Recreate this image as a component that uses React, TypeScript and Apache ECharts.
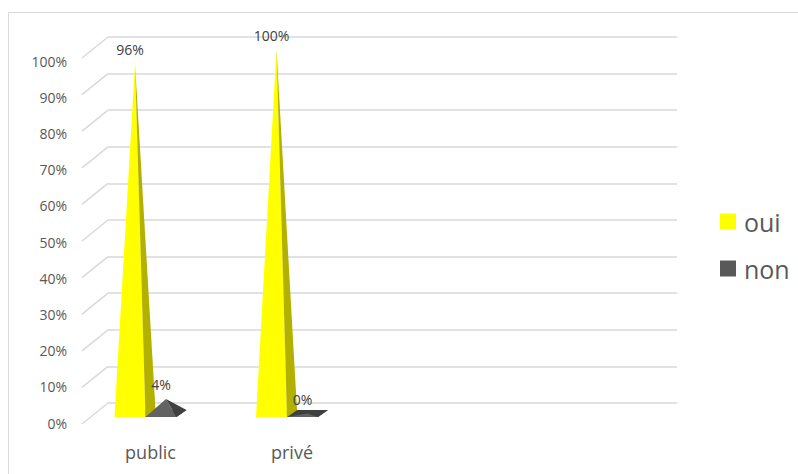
import React, { useEffect, useRef } from "react";
import * as echarts from "echarts";

const categories = ["public", "privé"];
const seriesNames = ["oui", "non"];
const ouiValues = [96, 100];
const nonValues = [4, 0];
const tickValues = [0, 10, 20, 30, 40, 50, 60, 70, 80, 90, 100];

const FONT = "'Open Sans', 'Noto Sans', sans-serif";

function pyramidRenderer(seriesIdx: number, front: string, side: string) {
  return (params: any, api: any) => {
    const i = api.value(0);
    const v = api.value(1);
    const c0 = api.coord([i, 0]);
    const ct = api.coord([i, v]);
    const hw = 15.5;
    const dx = 5;
    const dy = 3.5;
    const cx = c0[0] + (seriesIdx === 0 ? -hw : hw);
    const y0 = c0[1];
    const FL = [cx - hw - dx, y0 + dy];
    const FR = [cx + hw - dx, y0 + dy];
    const BR = [cx + hw + dx, y0 - dy];
    const BL = [cx - hw + dx, y0 - dy];
    const A = [cx, ct[1]];
    return {
      type: "group",
      children: [
        { type: "polygon", shape: { points: [FL, FR, BR, BL] }, style: { fill: side } },
        { type: "polygon", shape: { points: [FL, FR, A] }, style: { fill: front } },
        { type: "polygon", shape: { points: [FR, BR, A] }, style: { fill: side } },
        {
          type: "text",
          x: cx - dx,
          y: ct[1] - 14,
          style: {
            text: v + "%",
            fill: "#404040",
            fontSize: 14,
            fontFamily: FONT,
            align: "center",
            verticalAlign: "middle",
          },
        },
      ],
    };
  };
}

export default function App() {
  const ref = useRef<HTMLDivElement>(null);
  useEffect(() => {
    if (!ref.current) return;
    const chart = echarts.init(ref.current, null, { renderer: "svg" });
    chart.setOption({
      animation: false,
      backgroundColor: "#ffffff",
      graphic: [
        {
          type: "rect",
          shape: { x: 8.5, y: 12.5, width: 800, height: 480 },
          style: { fill: "none", stroke: "#d9d9d9", lineWidth: 1 },
          silent: true,
        },
      ],
      legend: {
        data: seriesNames,
        orient: "vertical",
        left: 720,
        top: 209,
        padding: 0,
        itemWidth: 16,
        itemHeight: 16,
        itemGap: 22,
        icon: "rect",
        textStyle: { fontSize: 25, color: "#595959", fontFamily: FONT, padding: [0, 0, 0, 3] },
      },
      grid: [
        { left: 108, top: 37, width: 569, height: 366 },
        { left: 79.75, top: 49, width: 283, height: 364.5 },
        { left: 75, top: 61, width: 10, height: 362 },
      ],
      xAxis: [
        { type: "value", gridIndex: 0, min: 0, max: 1, show: false },
        {
          type: "category",
          gridIndex: 1,
          data: categories,
          axisLine: { show: false },
          axisTick: { show: false },
          axisLabel: { fontSize: 18, color: "#595959", fontFamily: FONT, margin: 29 },
          splitLine: { show: false },
        },
        { type: "value", gridIndex: 2, min: 0, max: 1, show: false },
      ],
      yAxis: [
        {
          type: "value",
          gridIndex: 0,
          min: 0,
          max: 100,
          interval: 10,
          axisLabel: { show: false },
          axisLine: { show: false },
          axisTick: { show: false },
          splitLine: { show: true, lineStyle: { color: "#d9d9d9", width: 1.5 } },
        },
        { type: "value", gridIndex: 1, min: 0, max: 100, show: false },
        {
          type: "value",
          gridIndex: 2,
          min: 0,
          max: 100,
          interval: 10,
          axisLabel: {
            formatter: "{value}%",
            fontSize: 14,
            color: "#595959",
            fontFamily: FONT,
            margin: 8,
          },
          axisLine: { show: false },
          axisTick: { show: false },
          splitLine: { show: false },
        },
      ],
      series: [
        {
          type: "custom",
          name: "walls",
          xAxisIndex: 0,
          yAxisIndex: 0,
          silent: true,
          data: tickValues.map((t) => [0, t]),
          renderItem: (params: any, api: any) => {
            const p = api.coord([0, api.value(1)]);
            return {
              type: "line",
              shape: { x1: p[0], y1: p[1], x2: p[0] - 26, y2: p[1] + 21 },
              style: { stroke: "#d9d9d9", lineWidth: 1.5 },
            };
          },
        },
        {
          type: "custom",
          name: "oui",
          xAxisIndex: 1,
          yAxisIndex: 1,
          itemStyle: { color: "#ffff00" },
          data: ouiValues.map((v, i) => [i, v]),
          encode: { x: 0, y: 1 },
          clip: false,
          renderItem: pyramidRenderer(0, "#ffff00", "#b3b100"),
        },
        {
          type: "custom",
          name: "non",
          xAxisIndex: 1,
          yAxisIndex: 1,
          itemStyle: { color: "#595959" },
          data: nonValues.map((v, i) => [i, v]),
          encode: { x: 0, y: 1 },
          clip: false,
          renderItem: pyramidRenderer(1, "#636363", "#404040"),
        },
      ],
    });
    return () => chart.dispose();
  }, []);
  return (
    <div
      ref={ref}
      style={{ position: "fixed", left: 0, top: 0, width: 798, height: 474, background: "#fff" }}
    />
  );
}
